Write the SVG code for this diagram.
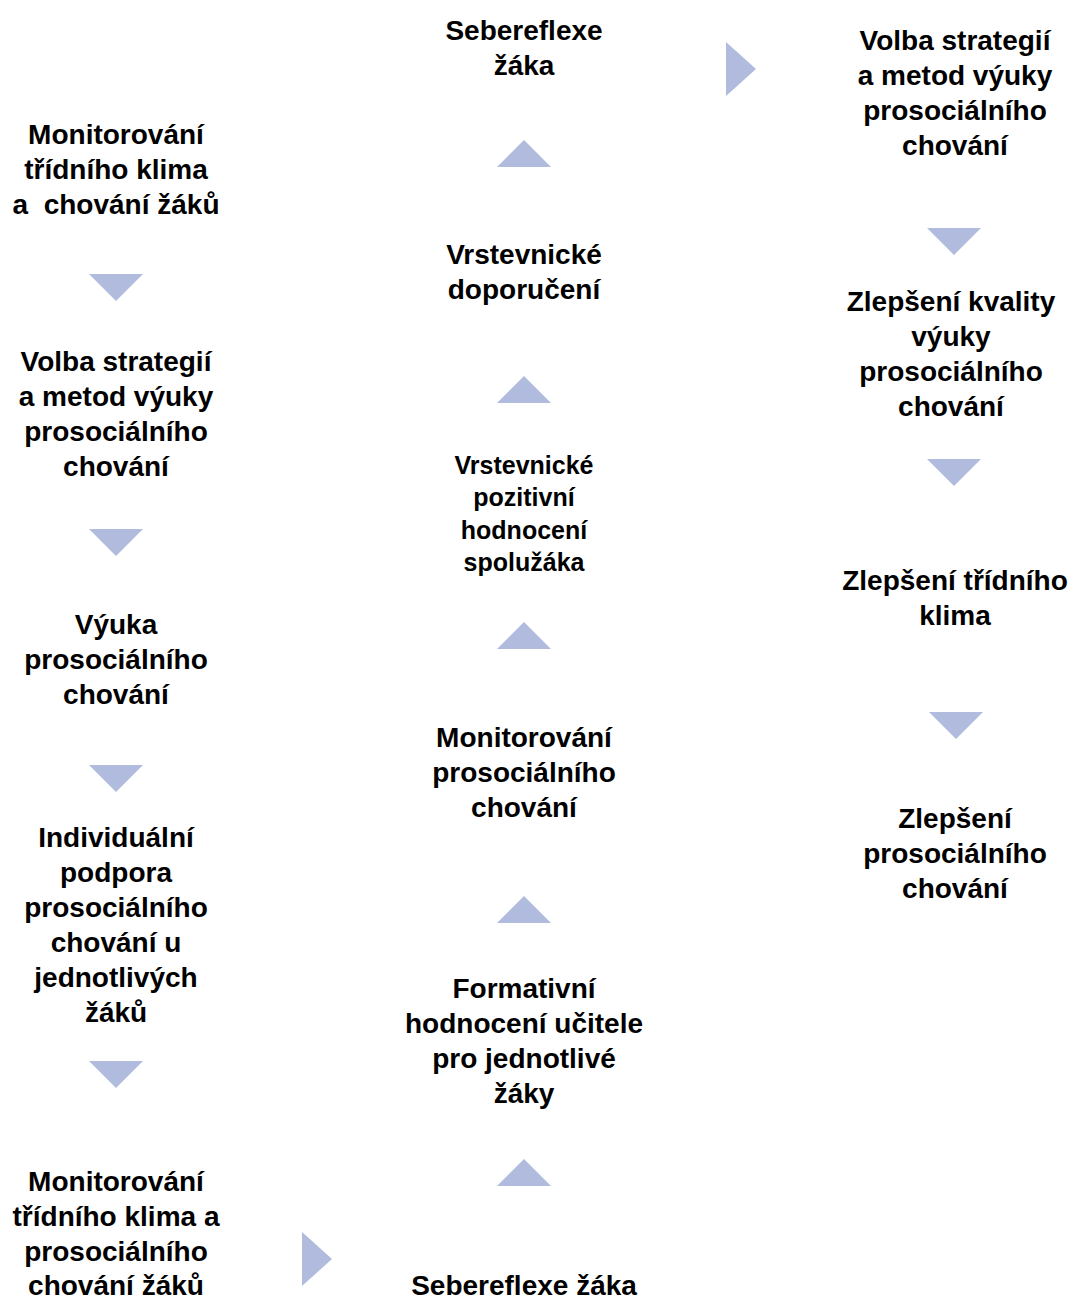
<svg xmlns="http://www.w3.org/2000/svg" width="1072" height="1300" viewBox="0 0 1072 1300">
<style>
text{font-family:"Liberation Sans",Arial,sans-serif;font-weight:bold;font-size:28px;fill:#000;text-anchor:middle}
text.s{font-size:25px}
.a{fill:#B0BBDD}
</style>
<defs>
<polygon id="dn" class="a" points="-27,0 27,0 0,27"/>
<polygon id="up" class="a" points="-27,27 27,27 0,0"/>
<polygon id="rt" class="a" points="0,0 30,27 0,54"/>
</defs>
<rect width="1072" height="1300" fill="#fff"/>
<g id="n1"><text x="116" y="144">Monitorování</text><text x="116" y="179">třídního klima</text><text x="116" y="214" xml:space="preserve">a  chování žáků</text></g>
<g id="n2"><text x="116" y="371">Volba strategií</text><text x="116" y="406">a metod výuky</text><text x="116" y="441">prosociálního</text><text x="116" y="476">chování</text></g>
<g id="n3"><text x="116" y="634">Výuka</text><text x="116" y="669">prosociálního</text><text x="116" y="704">chování</text></g>
<g id="n4"><text x="116" y="847">Individuální</text><text x="116" y="882">podpora</text><text x="116" y="917">prosociálního</text><text x="116" y="952">chování u</text><text x="116" y="987">jednotlivých</text><text x="116" y="1022">žáků</text></g>
<g id="n5"><text x="116" y="1191">Monitorování</text><text x="116" y="1226">třídního klima a</text><text x="116" y="1261">prosociálního</text><text x="116" y="1295">chování žáků</text></g>
<g id="n6"><text x="524" y="1295">Sebereflexe žáka</text></g>
<g id="n7"><text x="524" y="998">Formativní</text><text x="524" y="1033">hodnocení učitele</text><text x="524" y="1068">pro jednotlivé</text><text x="524" y="1103">žáky</text></g>
<g id="n8"><text x="524" y="747">Monitorování</text><text x="524" y="782">prosociálního</text><text x="524" y="817">chování</text></g>
<g id="n9"><text class="s" x="524" y="474">Vrstevnické</text><text class="s" x="524" y="506">pozitivní</text><text class="s" x="524" y="539">hodnocení</text><text class="s" x="524" y="571">spolužáka</text></g>
<g id="n10"><text x="524" y="264">Vrstevnické</text><text x="524" y="299">doporučení</text></g>
<g id="n11"><text x="524" y="40">Sebereflexe</text><text x="524" y="75">žáka</text></g>
<g id="n12"><text x="955" y="50">Volba strategií</text><text x="955" y="85">a metod výuky</text><text x="955" y="120">prosociálního</text><text x="955" y="155">chování</text></g>
<g id="n13"><text x="951" y="311">Zlepšení kvality</text><text x="951" y="346">výuky</text><text x="951" y="381">prosociálního</text><text x="951" y="416">chování</text></g>
<g id="n14"><text x="955" y="590">Zlepšení třídního</text><text x="955" y="625">klima</text></g>
<g id="n15"><text x="955" y="828">Zlepšení</text><text x="955" y="863">prosociálního</text><text x="955" y="898">chování</text></g>
<g id="connectors">
<use href="#dn" x="116" y="274"/>
<use href="#dn" x="116" y="529"/>
<use href="#dn" x="116" y="765"/>
<use href="#dn" x="116" y="1061"/>
<use href="#rt" x="302" y="1232"/>
<use href="#up" x="524" y="1159"/>
<use href="#up" x="524" y="896"/>
<use href="#up" x="524" y="622"/>
<use href="#up" x="524" y="376"/>
<use href="#up" x="524" y="140"/>
<use href="#rt" x="726" y="42"/>
<use href="#dn" x="954" y="228"/>
<use href="#dn" x="954" y="459"/>
<use href="#dn" x="956" y="712"/>
</g>
</svg>
